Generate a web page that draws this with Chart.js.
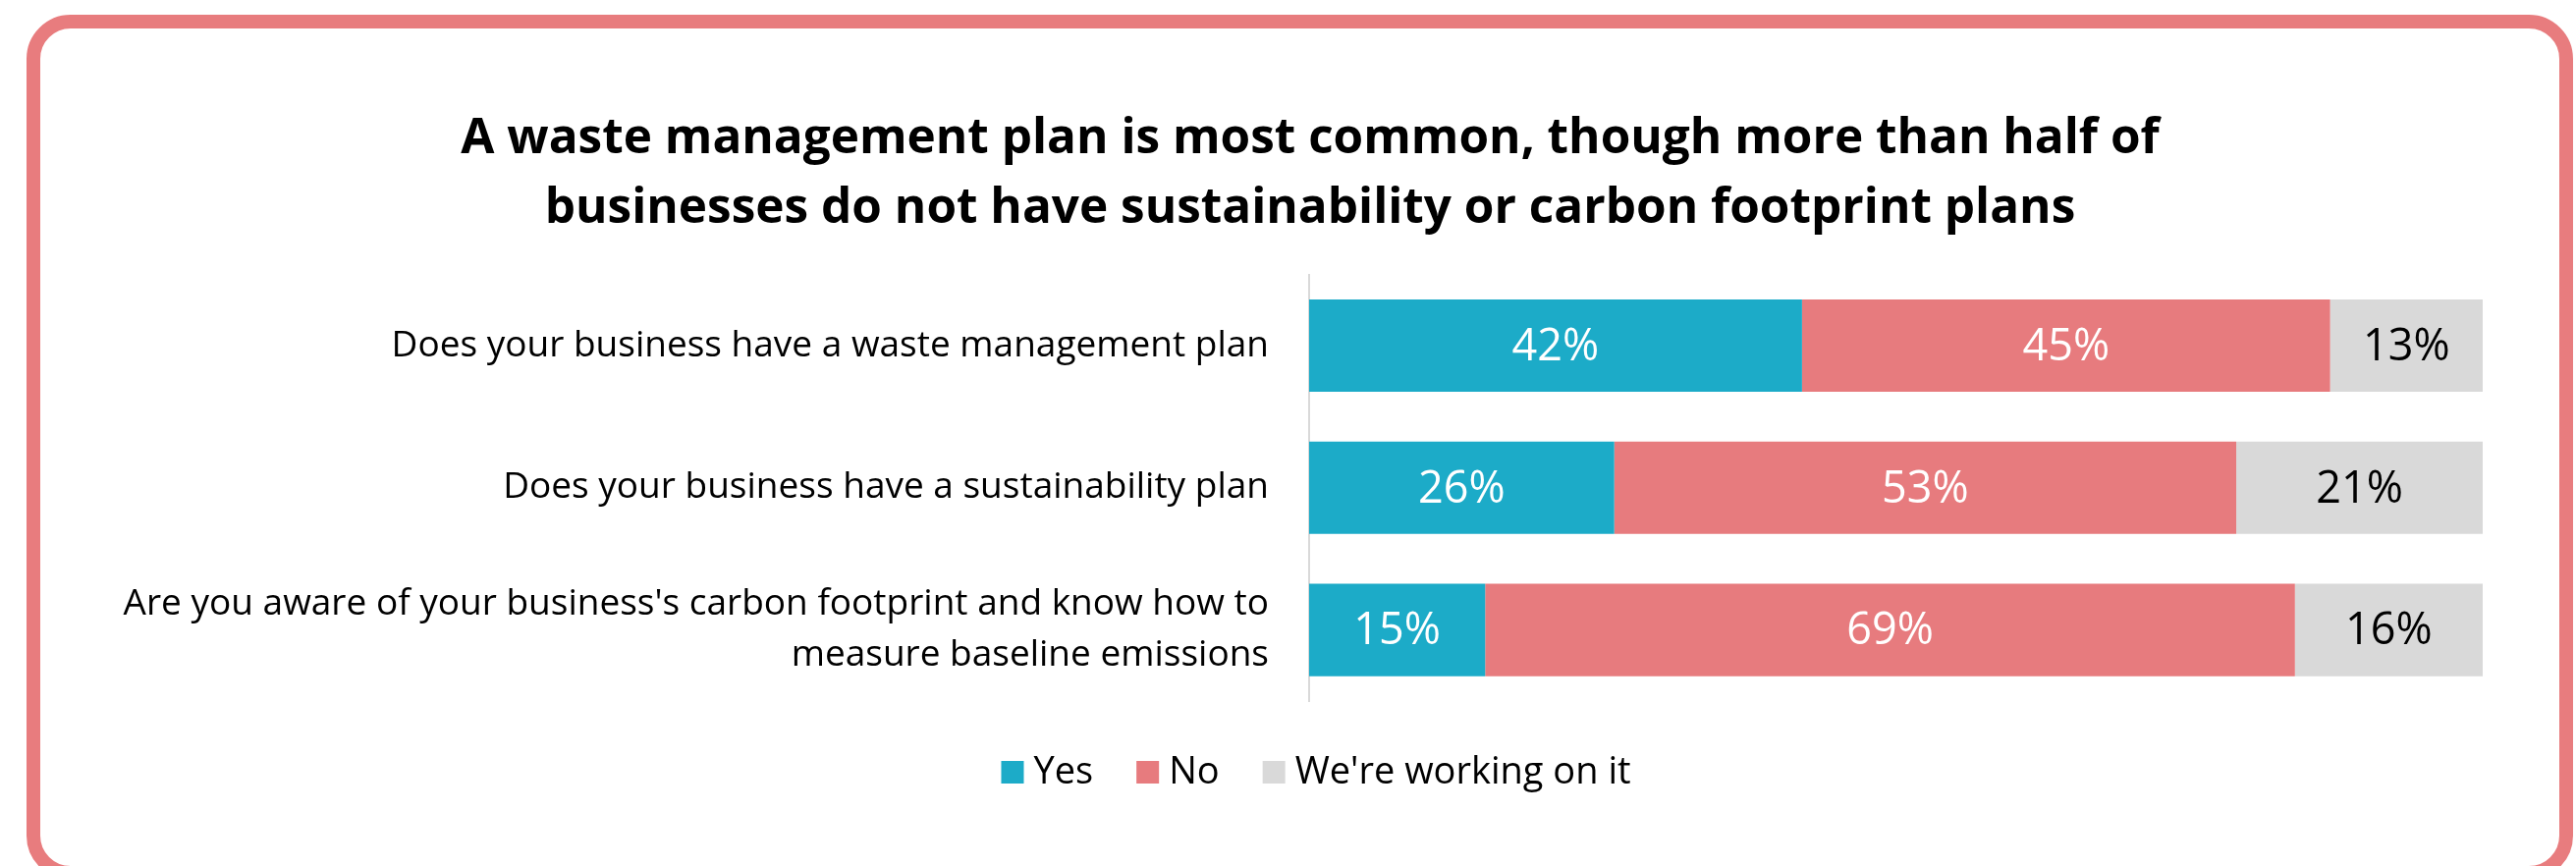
<!DOCTYPE html>
<html>
<head>
<meta charset="utf-8">
<script src="https://cdn.jsdelivr.net/npm/chart.js@4.4.1/dist/chart.umd.min.js"></script>
<style>
  html, body { margin: 0; padding: 0; background: #fff; }
  body { width: 2623px; height: 882px; position: relative; overflow: hidden; }
  .frame {
    position: absolute; left: 27px; top: 15px;
    width: 2593px; height: 881px; box-sizing: border-box;
    border: 14px solid #e87c7e; border-radius: 45px;
  }
  #chart { position: absolute; left: 0; top: 0; }
</style>
</head>
<body>
<div class="frame"></div>
<canvas id="chart" width="2623" height="882"></canvas>
<script>
// survey questions (y axis)
const categories = [
  'Does your business have a waste management plan',
  'Does your business have a sustainability plan',
  ["Are you aware of your business's carbon footprint and know how to", 'measure baseline emissions']
];
// answer shares, %
const yesValues = [42, 26, 15];
const noValues = [45, 53, 69];
const workingValues = [13, 21, 16];
const seriesNames = ['Yes', 'No', "We're working on it"];

const titleLines = [
  'A waste management plan is most common, though more than half of',
  'businesses do not have sustainability or carbon footprint plans'
];

const colors = ['#1cabc8', '#e77b7e', '#d9d9d9'];
const valueColors = ['#ffffff', '#ffffff', '#000000'];
const fontFamily = '"Open Sans", sans-serif';

// percentage written in the middle of every segment
const barValueLabels = {
  id: 'barValueLabels',
  afterDatasetsDraw(chart) {
    const ctx = chart.ctx;
    ctx.save();
    ctx.font = '45px ' + fontFamily;
    ctx.textAlign = 'center';
    ctx.textBaseline = 'middle';
    chart.data.datasets.forEach((ds, i) => {
      chart.getDatasetMeta(i).data.forEach((bar, j) => {
        const p = bar.getProps(['x', 'y', 'base'], true);
        ctx.fillStyle = valueColors[i];
        ctx.fillText(ds.data[j] + '%', (p.x + p.base) / 2, p.y + 2);
      });
    });
    ctx.restore();
  }
};

// legend below the bars, small gap between box and text
const customLegend = {
  id: 'customLegend',
  afterDraw(chart) {
    const ctx = chart.ctx;
    const box = 23, gap = 10, itemGap = 44;
    const baseline = 798, centerX = 1340;
    ctx.save();
    ctx.font = '38px ' + fontFamily;
    const items = chart.data.datasets.map((ds) => ({
      text: ds.label,
      color: ds.backgroundColor,
      w: ctx.measureText(ds.label).width
    }));
    const total = items.reduce((s, it) => s + box + gap + it.w, 0) + itemGap * (items.length - 1);
    let x = centerX - total / 2;
    items.forEach((it) => {
      ctx.fillStyle = it.color;
      ctx.fillRect(x, baseline - box, box, box);
      x += box + gap;
      ctx.fillStyle = '#000';
      ctx.textBaseline = 'alphabetic';
      ctx.fillText(it.text, x, baseline);
      x += it.w + itemGap;
    });
    ctx.restore();
  }
};

// the long question label needs room on the left, so the title is
// nudged right to stay centred over the whole card
const titleShift = {
  id: 'titleShift',
  afterLayout(chart) {
    chart.titleBlock.left += 40;
    chart.titleBlock.right += 40;
  }
};

const ctx = document.getElementById('chart').getContext('2d');
const myChart = new Chart(ctx, {
  type: 'bar',
  data: {
    labels: categories,
    datasets: [
      { label: seriesNames[0], data: yesValues, backgroundColor: colors[0] },
      { label: seriesNames[1], data: noValues, backgroundColor: colors[1] },
      { label: seriesNames[2], data: workingValues, backgroundColor: colors[2] }
    ]
  },
  options: {
    indexAxis: 'y',
    responsive: false,
    animation: false,
    devicePixelRatio: 1,
    barPercentage: 0.65,
    categoryPercentage: 1,
    layout: { padding: { top: 107, left: 60, right: 95, bottom: 168 } },
    scales: {
      x: { stacked: true, min: 0, max: 100, display: false },
      y: {
        stacked: true,
        grid: { display: false, drawTicks: false },
        border: { display: true, color: '#d9d9d9', width: 2 },
        ticks: {
          color: '#000',
          padding: 41,
          font: { family: fontFamily, size: 37, lineHeight: 1.4 }
        },
        afterFit(scale) { scale.width = 1273; }
      }
    },
    plugins: {
      legend: { display: false },
      tooltip: { enabled: false },
      title: {
        display: true,
        text: titleLines,
        color: '#000',
        font: { family: fontFamily, size: 49.5, weight: 'bold', lineHeight: 1.43 },
        padding: { top: 0, bottom: 31 }
      }
    }
  },
  plugins: [barValueLabels, customLegend, titleShift]
});
</script>
</body>
</html>
